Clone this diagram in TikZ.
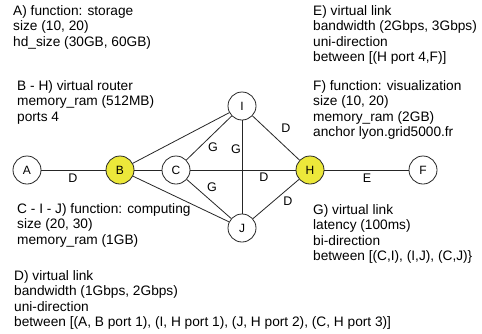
\documentclass[tikz,border=0pt]{standalone}
\usepackage{fontspec}
\setmainfont{Liberation Sans}
\definecolor{routeryellow}{RGB}{236,232,58}
\begin{document}
\begin{tikzpicture}[x=1pt,y=-1pt,
  vnode/.style={circle,draw=black!85,line width=0.8pt,minimum size=28pt,inner sep=0pt,fill=white,font=\fontsize{12}{14}\selectfont},
  router/.style={vnode,fill=routeryellow},
  link/.style={line width=0.8pt,draw=black!85},
  elabel/.style={inner sep=0pt,font=\fontsize{12.5}{14}\selectfont},
  txt/.style={anchor=north west,inner sep=0pt,align=left,font=\fontsize{13.7}{15.5}\selectfont}]
\useasboundingbox (0,0) rectangle (482,333);
\fill[white] (0,0) rectangle (482,333);
% nodes
\node[vnode] (A) at (27,170) {A};
\node[router] (B) at (120,170) {B};
\node[vnode] (C) at (176,170) {C};
\node[vnode] (I) at (242,106) {I};
\node[vnode] (J) at (242,228) {J};
\node[router] (H) at (310,170) {H};
\node[vnode] (F) at (423,170) {F};
% links
\draw[link] (A) -- (B);
\draw[link] (B) -- (C);
\draw[link] (C) -- (H);
\draw[link] (H) -- (F);
\draw[link] (B) -- (I);
\draw[link] (B) -- (J);
\draw[link] (C) -- (I);
\draw[link] (C) -- (J);
\draw[link] (I) -- (J);
\draw[link] (I) -- (H);
\draw[link] (J) -- (H);
% link labels
\node[elabel] (lab) at (73,178) {D};
\node[elabel] (lei) at (367,178) {E};
\node[elabel] (lci) at (213,147) {G};
\node[elabel] (lij) at (236,149) {G};
\node[elabel] (lcj) at (212,187) {G};
\node[elabel] (lch) at (264,177) {D};
\node[elabel] (lih) at (286,128) {D};
\node[elabel] (ljh) at (288,201) {D};
% texts
\node[txt] (tA) at (13,5) {A) function: storage\\size (10, 20)\\hd\_size (30GB, 60GB)};
\node[txt] (tB) at (17,80) {B - H) virtual router\\memory\_ram (512MB)\\ports 4};
\node[txt] (tC) at (17,203) {C - I - J) function: computing\\size (20, 30)\\memory\_ram (1GB)};
\node[txt] (tD) at (14,270) {D) virtual link\\bandwidth (1Gbps, 2Gbps)\\uni-direction\\between [(A, B port 1), (I, H port 1), (J, H port 2), (C, H port 3)]};
\node[txt] (tE) at (313,5) {E) virtual link\\bandwidth (2Gbps, 3Gbps)\\uni-direction\\between [(H port 4,F)]};
\node[txt] (tF) at (313,80) {F) function: visualization\\size (10, 20)\\memory\_ram (2GB)\\anchor lyon.grid5000.fr};
\node[txt] (tG) at (313,204) {G) virtual link\\latency (100ms)\\bi-direction\\between [(C,I), (I,J), (C,J)\}};
\end{tikzpicture}
\end{document}
